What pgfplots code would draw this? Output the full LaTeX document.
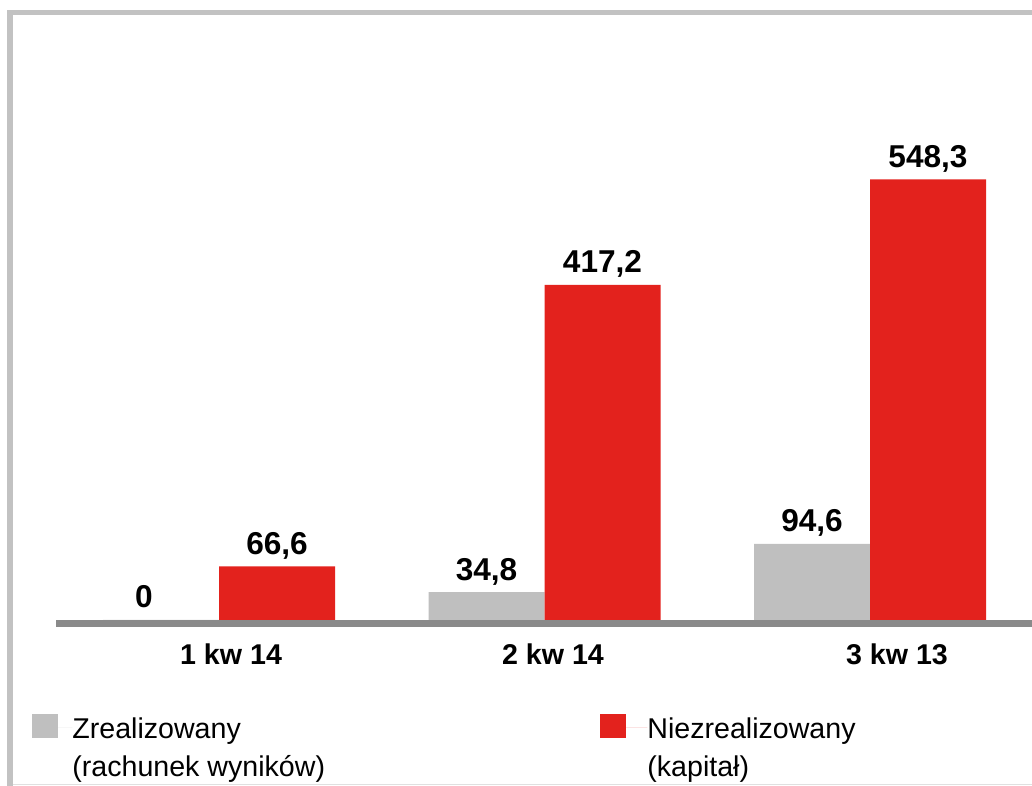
\documentclass[border=0pt]{standalone}
\usepackage{pgfplots}
\pgfplotsset{compat=1.18}
\usepackage{fontspec}
\setmainfont{Liberation Sans}
\definecolor{barred}{HTML}{E3221D}
\definecolor{bargray}{HTML}{BFBFBF}
\definecolor{axisgray}{HTML}{8A8A8A}
\definecolor{framegray}{HTML}{C2C2C2}
\begin{document}
\begin{tikzpicture}
\begin{scope}[x=0.5pt,y=0.5pt]
\useasboundingbox (0,0) rectangle (1032,786);
% frame
\fill[framegray] (7,0) rectangle (12.5,776);
\fill[framegray] (7,776) rectangle (1032,770.5);
\draw[line width=0.5pt,black!12] (12.5,1.5) -- (1032,1.5);
\end{scope}
\begin{axis}[
  at={(28pt,83pt)}, anchor=south west,
  scale only axis, width=488pt, height=300pt,
  xmin=-0.5008, xmax=2.4977, ymin=0, ymax=746.7,
  ybar=0pt, bar width=0.3564,
  axis line style={draw=none}, tick style={draw=none},
  ytick=\empty,
  xtick={0.037,1.026,2.083},
  xticklabels={1 kw 14,2 kw 14,3 kw 13},
  xticklabel style={font=\fontsize{14.3}{17}\selectfont\bfseries, anchor=base, yshift=-18pt, inner sep=0pt},
  clip=false,
  /pgf/number format/assume math mode=true,
  nodes near coords={\pgfmathprintnumber[fixed,precision=1,use comma]{\pgfplotspointmeta}},
  every node near coord/.append style={font=\fontsize{15.8}{19}\selectfont\bfseries, anchor=base, yshift=6pt, inner sep=0pt},
  legend columns=2,
  legend style={at={(-0.02459,-0.1533)}, anchor=north west, draw=none, fill=none, inner sep=0pt,
    column sep=0pt, font=\fontsize{14.3}{19}\selectfont, nodes={inner sep=0pt}},
]
\addplot[fill=bargray, draw=none,
  coordinate style/.condition={x==0}{xshift=-8.5pt},
  legend image code/.code={\fill[bargray] (0pt,-5.5pt) rectangle (13pt,6.5pt); \path (0pt,0pt) -- (20pt,0pt);}]
  coordinates {(0,0) (1,34.8) (2,94.6)};
\addlegendentry{\makebox[264pt][l]{\begin{tabular}[t]{@{}l@{}}Zrealizowany\\(rachunek wyników)\end{tabular}}}
\addplot[fill=barred, draw=none,
  legend image code/.code={\fill[barred] (0pt,-5.5pt) rectangle (13pt,6.5pt); \path (0pt,0pt) -- (23.5pt,0pt);}]
  coordinates {(0,66.6) (1,417.2) (2,548.3)};
\addlegendentry{\begin{tabular}[t]{@{}l@{}}Niezrealizowany\\(kapitał)\end{tabular}}
\end{axis}
% x axis baseline bar
\fill[axisgray] (28pt,83pt) rectangle (516pt,79.5pt);
\end{tikzpicture}
\end{document}
